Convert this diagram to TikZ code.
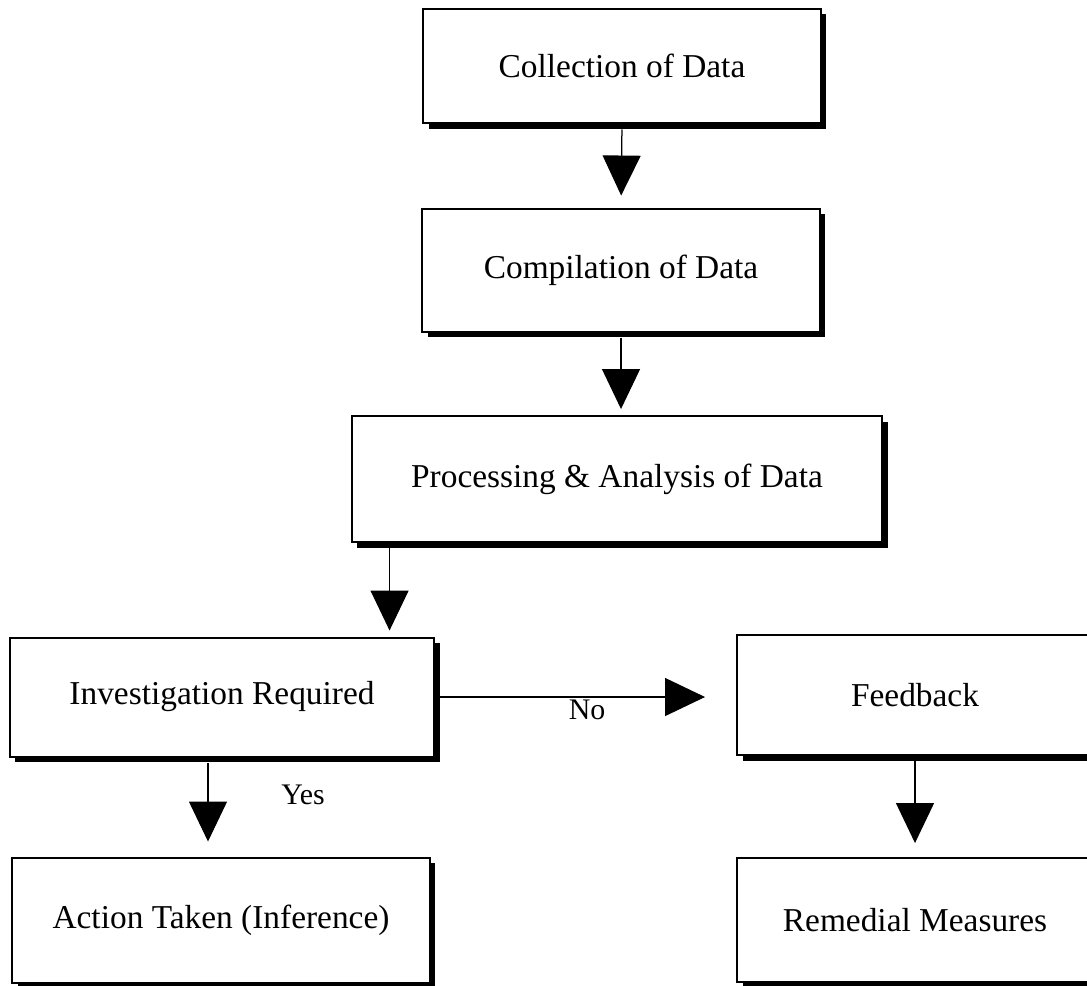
\documentclass[tikz,border=0pt]{standalone}
\usepackage{fontspec}
\setmainfont{Liberation Serif}
\usetikzlibrary{arrows.meta, shadows, calc, positioning}
\tikzset{
    flowBox/.style={rectangle, draw, line width=0.04cm, fill=white, inner sep=0pt, font=\fontsize{19}{23}\selectfont, drop shadow={shadow xshift=0.11cm, shadow yshift=-0.11cm, fill=black, opacity=1}},
    flowArrow/.style={-{Triangle[width=0.76cm, length=0.8cm]}, line width=0.025cm, shorten <=0.1cm, shorten >=0.24cm},
    flowLabel/.style={font=\fontsize{17}{20}\selectfont, inner sep=0pt},
}
\newcommand{\drawFlow}[3][]{
    \draw[flowArrow, #1] (#2) -- (#3);
}
\begin{document}
\begin{tikzpicture}[x=0.02cm, y=-0.02cm]

    % page frame (pixels of the scan)
    \clip (0,0) rectangle (1087,985);

    % main chain
    \node[flowBox, minimum width=7.96cm, minimum height=2.3cm] (coll) at (622,66) {Collection of Data};
    \node[flowBox, minimum width=7.96cm, minimum height=2.46cm] (comp) at (621,270) {Compilation of Data};
    \node[flowBox, minimum width=10.62cm, minimum height=2.52cm] (proc) at (617,479) {Processing \& Analysis of Data};

    % decision and outcomes
    \node[flowBox, minimum width=8.5cm, minimum height=2.38cm] (inv) at (222,697) {Investigation Required};
    \node[flowBox, minimum width=8.36cm, minimum height=2.5cm] (act) at (221,920) {Action Taken (Inference)};
    \node[flowBox, minimum width=7.12cm, minimum height=2.4cm] (fb) at (915,695) {Feedback};
    \node[flowBox, minimum width=7.12cm, minimum height=2.48cm] (rem) at (915,920) {Remedial Measures};

    \coordinate (procOut) at ($(proc.south west)+(39,0)$);
    \coordinate (invOut) at ($(inv.south)+(-14,0)$);

    \drawFlow{coll.south}{comp.north}
    \drawFlow[shorten >=0.12cm]{comp.south}{comp.south |- proc.north}
    \drawFlow[shorten >=0.12cm]{procOut}{procOut |- inv.north}
    \drawFlow[shorten >=0.3cm]{invOut}{invOut |- act.north}
    \drawFlow[shorten >=0.62cm]{inv.east}{inv.east -| fb.west}
    \drawFlow[shorten >=0.28cm]{fb.south}{rem.north}

    \node[flowLabel] (yes) at (303,795) {Yes};
    \node[flowLabel] (no) at (587,710) {No};

\end{tikzpicture}
\end{document}
